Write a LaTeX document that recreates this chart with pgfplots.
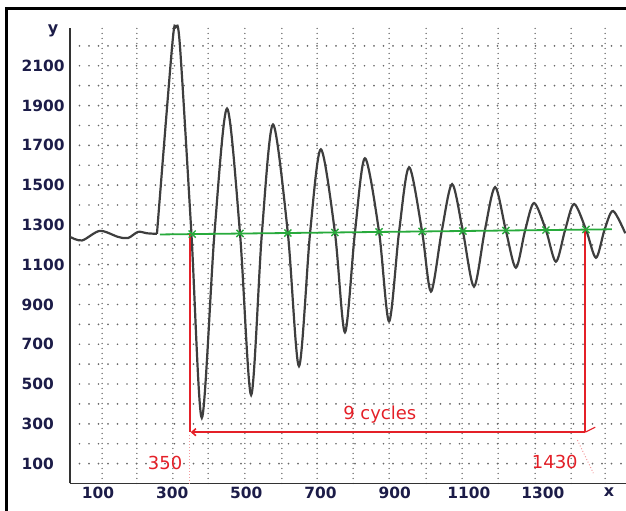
\documentclass[border=0pt]{standalone}
\usepackage{fontspec}
\usepackage{pgfplots}
\pgfplotsset{compat=1.18}
\usetikzlibrary{arrows.meta}
\newfontfamily\dejavu{DejaVu Sans}
\definecolor{navy}{RGB}{28,28,72}
\definecolor{curve}{RGB}{62,62,62}
\definecolor{gridgray}{RGB}{105,105,105}
\definecolor{redline}{RGB}{228,32,40}
\definecolor{greenline}{RGB}{40,170,60}

\begin{document}
\begin{tikzpicture}
\useasboundingbox (-70bp,-27.5bp) rectangle (556bp,483.5bp);
\begin{axis}[
    at={(0,0)}, anchor=south west,
    scale only axis,
    width=556bp, height=455.5bp,
    xmin=24.5, xmax=1524, ymin=0, ymax=2290,
    axis x line=bottom, axis y line=left,
    axis line style={-, line width=1.8bp, black!80},
    xtick={100,300,500,700,900,1100,1300},
    xticklabels={100,300,500,700,900,1100,1300},
    minor xtick={111,205,302,397,496,596,691,788,885,985,1082,1179,1279,1376,1468},
    ytick={100,200,...,2200},
    yticklabels={100,,300,,500,,700,,900,,1100,,1300,,1500,,1700,,1900,,2100,},
    xmajorgrids=false, xminorgrids=true, ymajorgrids=true,
    minor grid style={gridgray, line width=1.5bp, line cap=round, dash pattern=on 0bp off 5bp},
    major grid style={gridgray, line width=1.9bp, line cap=round, dash pattern=on 0bp off 9.5bp},
    major tick length=0pt, minor tick length=0pt,
    tick style={draw=none},
    tick label style={font=\dejavu\bfseries\fontsize{15.5}{18}\selectfont, text=navy},
    yticklabel style={anchor=west, xshift=-52bp},
    clip=false,
]
% quiet part before the release
\addplot[curve, line width=2.2bp, smooth] coordinates {
    (24.5,1240) (57,1222) (105,1270) (154,1240) (181,1234) (208,1265) (232,1258) (259,1255)
};
% oscillation
\addplot[curve, line width=2.2bp, smooth] coordinates {
    (259,1255) (300,2200) (310,2295) (321,2200) (352,1254) (380,330)
    (414,1255) (448,1885) (483,1257) (513,445)
    (542,1258) (572,1805) (612,1259) (642,590)
    (672,1260) (701,1680) (739,1262) (766,760)
    (793,1263) (820,1635) (858,1265) (885,815)
    (912,1266) (939,1590) (974,1267) (998,965)
    (1027,1268) (1055,1505) (1084,1269) (1114,990)
    (1143,1270) (1171,1490) (1200,1272) (1227,1085)
    (1252,1273) (1276,1410) (1308,1274) (1335,1115)
    (1360,1276) (1384,1405) (1416,1277) (1443,1135)
    (1466,1275) (1489,1370) (1522,1258)
};
% mean line and crossings
\addplot[greenline, line width=1.8bp] coordinates {(267,1252) (1486,1278)};
\addplot[only marks, mark=x, mark size=5bp, greenline, mark options={line width=1.4bp}] coordinates {
    (354,1254) (483,1257) (612,1259) (739,1262) (858,1265)
    (974,1267) (1084,1269) (1200,1272) (1308,1274) (1416,1277)
};
% red period annotation
\addplot[redline, line width=1.6bp] coordinates {(348,1254) (348,258)};
\addplot[redline, line width=1.6bp] coordinates {(1414,1277) (1414,258)};
\addplot[redline, line width=1.6bp, {Straight Barb[length=4bp,width=7bp]}-] coordinates {(350,258) (1414,258)};
\addplot[redline, line width=1.2bp] coordinates {(1414,258) (1441,283)};
\addplot[redline!45, line width=1bp, dotted] coordinates {(348,243) (348,0)};
\addplot[redline!45, line width=1bp, dotted] coordinates {(1393,218) (1436,52)};
\node[text=redline, font=\dejavu\fontsize{18}{20}\selectfont] at (axis cs:281,103) {350};
\node[text=redline, font=\dejavu\fontsize{18}{20}\selectfont] at (axis cs:1332,108) {1430};
\node[text=redline, font=\dejavu\fontsize{18}{20}\selectfont] at (axis cs:860,345) {9 cycles};
\node[text=navy, font=\dejavu\bfseries\fontsize{16}{18}\selectfont] at (axis cs:-21,2275) {y};
\node[text=navy, font=\dejavu\bfseries\fontsize{16}{18}\selectfont] at (axis cs:1478,-45) {x};
\end{axis}
% frame
\draw[line width=3bp, black] (-63bp,-40bp) -- (-63bp,474.5bp) -- (600bp,474.5bp);
\end{tikzpicture}
\end{document}
